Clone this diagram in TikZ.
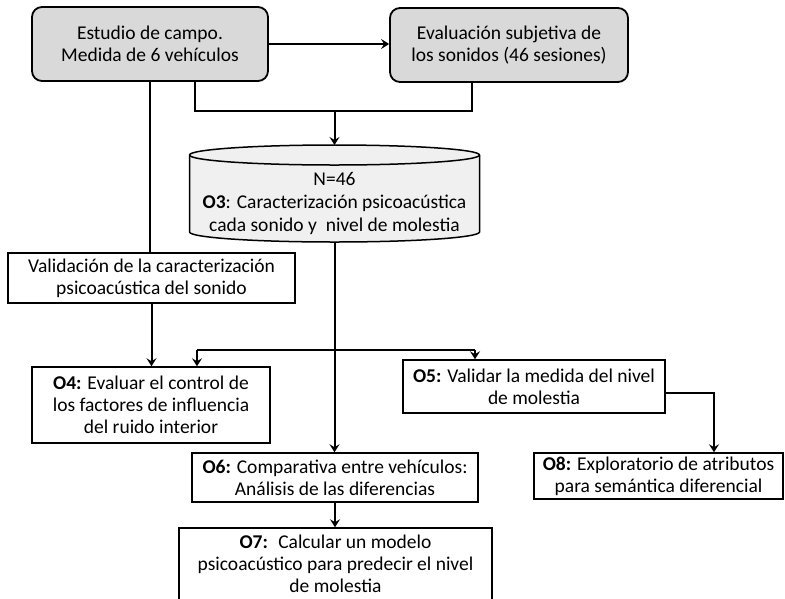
\documentclass[tikz,border=0pt]{standalone}
\usepackage{fontspec}
\setmainfont{Carlito}
\usetikzlibrary{arrows.meta}
\begin{document}
\begin{tikzpicture}[x=1pt,y=1pt,
  every node/.style={font=\fontsize{19.5}{22}\selectfont, align=center, inner sep=0pt},
  graybox/.style={draw, line width=1.8pt, rounded corners=10pt, fill=black!15},
  plainbox/.style={draw, line width=1.5pt, fill=white},
  link/.style={line width=2pt},
  arr/.style={link, -{Stealth[length=8pt,width=10pt,inset=3pt]}}]
\useasboundingbox (0,0) rectangle (785,-598);

% top row
\node[graybox, minimum width=236pt, minimum height=74pt] (A) at (150,-44)
  {Estudio de campo.\\ Medida de 6 vehículos};
\node[graybox, minimum width=238pt, minimum height=74pt] (B) at (509,-45)
  {Evaluación subjetiva de\\ los sonidos (46 sesiones)};

% database cylinder
\coordinate (cyltop) at (334.5,-145);
\coordinate (cylbot) at (334.5,-242);
\filldraw[line width=1.5pt, fill=black!6]
  (189.5,-155) -- (189.5,-232) arc[start angle=180, end angle=360, x radius=145pt, y radius=10pt]
  -- (479.5,-155) arc[start angle=0, end angle=180, x radius=145pt, y radius=10pt] -- cycle;
\draw[line width=1.5pt] (189.5,-155) arc[start angle=180, end angle=360, x radius=145pt, y radius=10pt];
\node[font=\fontsize{19.5}{23}\selectfont] (cyl) at (334.5,-203)
  {N=46\\ \textbf{O3}: Caracterización psicoacústica\\ cada sonido y~ nivel de molestia};

% objective boxes
\node[plainbox, minimum width=287pt, minimum height=50pt] (val) at (151.5,-278)
  {Validación de la caracterización\\ psicoacústica del sonido};
\node[plainbox, minimum width=238pt, minimum height=76pt] (O4) at (151,-405)
  {\textbf{O4:} Evaluar el control de\\ los factores de influencia\\ del ruido interior};
\node[plainbox, minimum width=262pt, minimum height=53pt] (O5) at (534,-386.5)
  {\textbf{O5:} Validar la medida del nivel\\ de molestia};
\node[plainbox, minimum width=286pt, minimum height=49pt] (O6) at (335,-477.5)
  {\textbf{O6:} Comparativa entre vehículos:\\ Análisis de las diferencias};
\node[plainbox, minimum width=249pt, minimum height=46pt] (O8) at (658.5,-476)
  {\textbf{O8:} Exploratorio de atributos\\ para semántica diferencial};
\node[plainbox, minimum width=313pt, minimum height=72pt] (O7) at (335.5,-564)
  {\textbf{O7:}~ Calcular un modelo\\ psicoacústico para predecir el nivel\\ de molestia};

% connectors
\draw[arr] (A.east) -- (B.west |- A.east);
\draw[link] (A.south) -- (A.south |- val.north);

\coordinate (j1) at (195,-111);
\coordinate (j2) at (472,-111);
\coordinate (jm) at (334.5,-111);
\draw[link] (A.south -| j1) -- (j1) -- (j2) -- (B.south -| j2);
\draw[arr] (jm) -- (cyltop);

\draw[arr] (cylbot) -- (O6.north -| cylbot);

\coordinate (b1) at (197,-350);
\coordinate (b2) at (475,-350);
\draw[link] (b1) -- (b2);
\draw[arr] (b1) -- (b1 |- O4.north);
\draw[arr] (b2) -- (b2 |- O5.north);

\draw[arr] (val.south) -- (val.south |- O4.north);

\coordinate (c5) at (714,-393);
\draw[arr] (O5.east |- c5) -- (c5) -- (c5 |- O8.north);

\draw[arr] (O6.south) -- (O6.south |- O7.north);
\end{tikzpicture}
\end{document}
